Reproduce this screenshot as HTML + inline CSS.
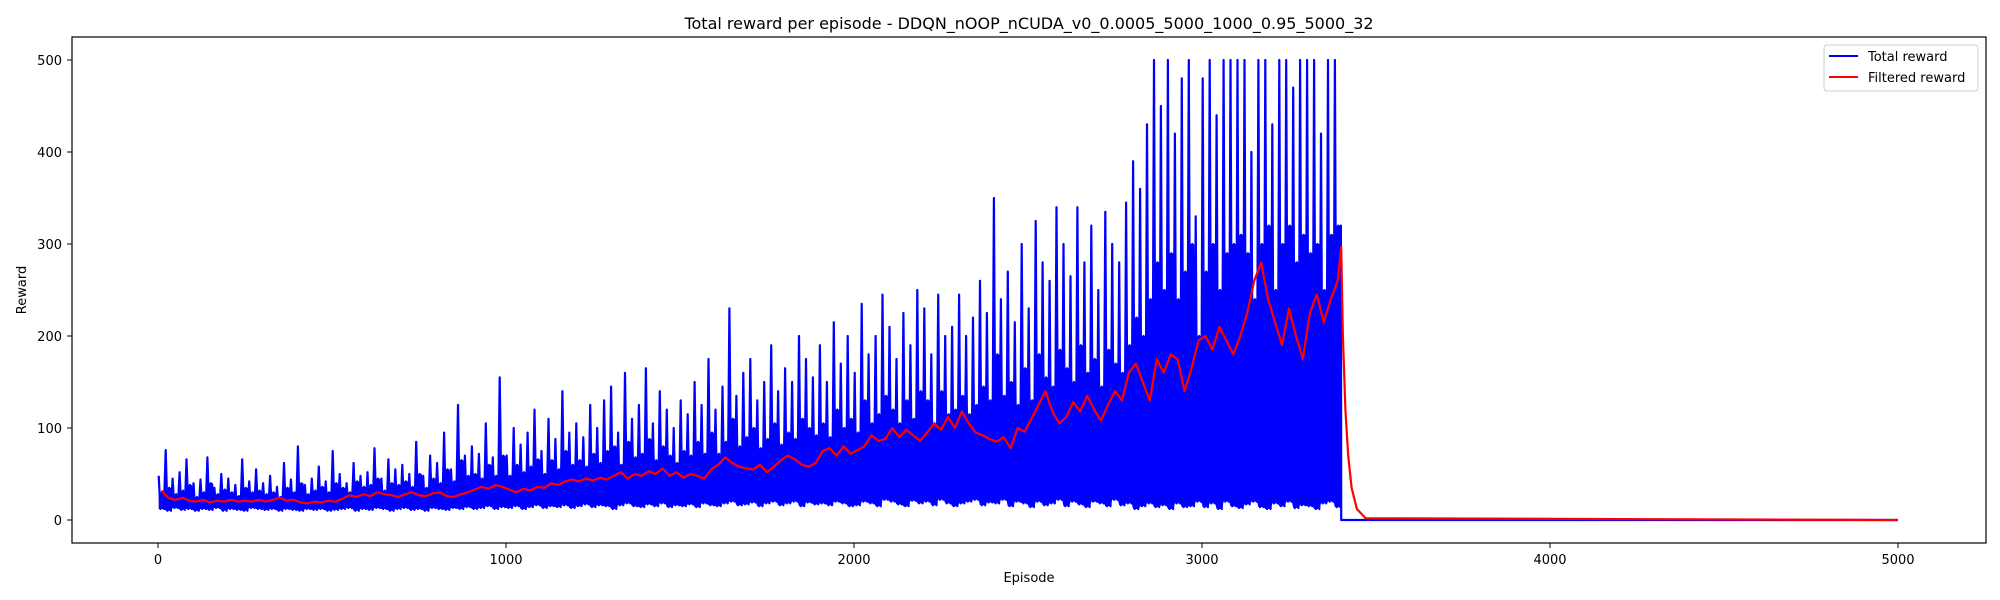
<!DOCTYPE html>
<html><head><meta charset="utf-8"><style>
html,body{margin:0;padding:0;background:#fff;}
svg{display:block;font-family:"DejaVu Sans","Liberation Sans",sans-serif;}
</style></head><body>
<svg id="chart" width="2000" height="600" viewBox="0 0 2000 600" xmlns="http://www.w3.org/2000/svg">
<rect width="2000" height="600" fill="#fff"/>
<text x="1029" y="29" font-size="16" text-anchor="middle" fill="#000">Total reward per episode - DDQN_nOOP_nCUDA_v0_0.0005_5000_1000_0.95_5000_32</text>
<text x="1029" y="582" font-size="13" text-anchor="middle" fill="#000">Episode</text>
<text x="26" y="290" font-size="13" text-anchor="middle" fill="#000" transform="rotate(-90 26 290)">Reward</text>
<g id="ticks"></g>
<g id="series"></g>
<rect x="72" y="37" width="1914" height="506" fill="none" stroke="#000" stroke-width="1.2"/>
<g>
<rect x="1824" y="45" width="154" height="46" rx="3" fill="#fff" fill-opacity="0.8" stroke="#ccc"/>
<line x1="1829" y1="56" x2="1858" y2="56" stroke="#0000ff" stroke-width="2"/>
<text x="1868" y="61" font-size="13">Total reward</text>
<line x1="1829" y1="77" x2="1858" y2="77" stroke="#ff0000" stroke-width="2"/>
<text x="1868" y="82" font-size="13">Filtered reward</text>
</g>
</svg>
<script>
const xTicks=[0,1000,2000,3000,4000,5000];
const yTicks=[0,100,200,300,400,500];
const binSize=20;
const highs=[48,76,45,52,66,40,44,68,35,50,45,38,66,42,55,40,48,36,62,44,80,38,45,58,42,
75,50,40,62,48,52,78,45,66,55,60,50,85,48,70,62,95,55,125,70,80,72,105,68,155,
70,100,82,95,120,75,110,88,140,95,105,90,125,100,130,145,95,160,110,125,165,105,140,120,100,
130,115,150,125,175,120,145,230,135,160,175,130,150,190,140,165,150,200,175,155,190,150,215,170,200,
160,235,180,200,245,210,175,225,190,250,230,180,245,200,210,245,200,220,260,225,350,240,270,215,300,
230,325,280,260,340,300,265,340,280,320,250,335,300,280,345,390,360,430,500,450,500,420,480,500,330,
480,500,440,500,500,500,500,400,500,500,430,500,500,470,500,500,500,420,500,500];
const mids=[30,35,28,32,38,25,30,40,28,33,30,26,35,30,32,28,30,25,35,30,40,28,32,36,30,
40,35,30,42,36,38,45,32,40,38,42,36,50,35,45,40,55,42,65,48,50,45,60,48,70,
48,60,52,58,66,50,65,55,75,60,65,58,72,62,75,80,60,85,68,72,88,65,80,70,62,
75,70,85,72,95,72,85,110,80,90,100,78,88,105,82,95,88,110,100,92,105,90,120,100,110,
95,130,105,115,135,120,105,130,110,140,130,105,140,115,120,135,115,125,145,130,180,135,150,125,165,
130,180,155,145,185,165,150,190,160,175,145,185,170,160,190,220,200,240,280,250,290,240,270,300,200,
270,300,250,290,300,310,290,240,300,320,250,300,320,280,310,290,300,250,310,320];
const lows=[12,10,13,11,12,10,12,11,13,10,12,11,10,13,12,11,12,10,12,11,10,12,11,12,10,
11,12,13,10,12,11,13,12,10,12,13,11,12,10,13,12,11,13,12,14,12,13,15,12,14,
13,15,12,14,16,13,15,14,16,13,15,17,14,16,15,12,16,18,15,14,17,15,18,14,16,
15,17,14,18,16,15,18,20,16,17,19,15,18,20,16,18,20,15,19,17,18,16,20,18,15,
16,20,18,15,22,20,17,15,21,18,20,16,22,18,15,18,20,22,16,19,18,22,15,20,18,
14,20,16,18,22,15,20,17,14,20,18,15,22,16,18,12,15,18,14,16,12,18,14,15,20,
14,18,12,20,15,13,17,20,14,12,18,15,20,13,16,15,12,18,20,14];
const filtered=[32,24,22,24,21,20,22,19,21,20,22,20,21,20,22,20,22,24,21,22,19,18,20,19,21,
20,23,27,25,28,26,30,28,27,25,28,30,27,26,29,30,26,25,28,30,33,36,34,38,36,
33,30,34,32,36,35,40,38,42,44,42,45,43,46,44,48,52,45,50,48,53,50,56,48,52,
46,50,48,45,55,60,68,62,58,56,55,60,52,58,65,70,66,60,58,62,75,78,70,80,72,
76,80,92,86,88,100,90,98,92,86,95,105,98,112,100,118,105,95,92,88,85,90,78,100,96,
110,125,140,118,105,112,128,118,135,120,108,125,140,130,160,170,150,130,175,160,180,175,140,165,195,
200,185,210,195,180,200,225,260,280,240,215,190,230,200,175,225,245,215,240,260];
const tailEpisodes=[3400,3405,3412,3420,3430,3445,3470,5000];
const tailFiltered=[297,200,120,70,35,12,2,0];
const totalEndEpisode=3400;
const lastEpisode=5000;

const X0=158,X1=1898,Y0=520,Y500=60;
function sx(e){return X0+(e/5000)*(X1-X0);}
function sy(v){return Y0-(v/500)*(Y0-Y500);}
const NS="http://www.w3.org/2000/svg";
const tg=document.getElementById('ticks');
xTicks.forEach(t=>{
  const l=document.createElementNS(NS,'line');
  l.setAttribute('x1',sx(t));l.setAttribute('x2',sx(t));l.setAttribute('y1',543);l.setAttribute('y2',548);
  l.setAttribute('stroke','#000');
  
  
  tg.appendChild(l);
  const tx=document.createElementNS(NS,'text');
  tx.setAttribute('x',sx(t));tx.setAttribute('y',564);tx.setAttribute('font-size','13');tx.setAttribute('text-anchor','middle');
  tx.textContent=t;
  
  
  tg.appendChild(tx);
});
yTicks.forEach(t=>{
  const l=document.createElementNS(NS,'line');
  l.setAttribute('x1',67);l.setAttribute('x2',72);l.setAttribute('y1',sy(t));l.setAttribute('y2',sy(t));
  l.setAttribute('stroke','#000');
  
  
  tg.appendChild(l);
  const tx=document.createElementNS(NS,'text');
  tx.setAttribute('x',62);tx.setAttribute('y',sy(t)+5);tx.setAttribute('font-size','13');tx.setAttribute('text-anchor','end');
  tx.textContent=t;
  
  
  tg.appendChild(tx);
});
const sg=document.getElementById('series');
let bandTop=[],bandBot=[];
for(let i=0;i<highs.length;i++){
  const b=i*binSize;
  bandTop.push([b+2,mids[i]],[b+18,mids[i]]);
  bandBot.push([b+2,lows[i]],[b+18,lows[i]]);
}
const bandPts=bandTop.concat(bandBot.reverse());
const band=document.createElementNS(NS,'polygon');
band.setAttribute('points',bandPts.map(p=>sx(p[0]).toFixed(1)+','+sy(p[1]).toFixed(1)).join(' '));
band.setAttribute('fill','#0000ff');


sg.appendChild(band);
let pts=[];
for(let i=0;i<highs.length;i++){
  const b=i*binSize;
  pts.push([b+2,highs[i]],[b+7,lows[i]],[b+12,mids[i]],[b+17,lows[i]]);
}
pts.push([totalEndEpisode-1,mids[mids.length-1]],[totalEndEpisode,0],[lastEpisode,0]);
const blue=document.createElementNS(NS,'polyline');
blue.setAttribute('points',pts.map(p=>sx(p[0]).toFixed(1)+','+sy(p[1]).toFixed(1)).join(' '));
blue.setAttribute('fill','none');blue.setAttribute('stroke','#0000ff');blue.setAttribute('stroke-width','2.2');blue.setAttribute('stroke-linejoin','round');


sg.appendChild(blue);
let rp=[];
for(let i=0;i<filtered.length;i++){rp.push([i*binSize+10,filtered[i]]);}
for(let i=0;i<tailEpisodes.length;i++){rp.push([tailEpisodes[i],tailFiltered[i]]);}
const red=document.createElementNS(NS,'polyline');
red.setAttribute('points',rp.map(p=>sx(p[0]).toFixed(1)+','+sy(p[1]).toFixed(1)).join(' '));
red.setAttribute('fill','none');red.setAttribute('stroke','#ff0000');red.setAttribute('stroke-width','2.2');red.setAttribute('stroke-linejoin','round');


sg.appendChild(red);
</script>
</body></html>
